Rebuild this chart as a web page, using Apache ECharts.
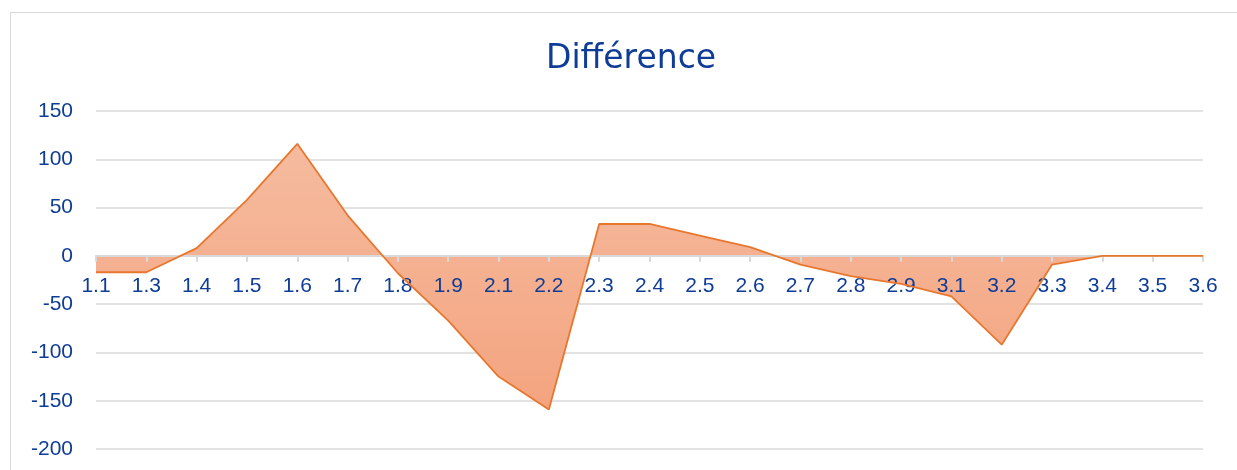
<!DOCTYPE html>
<html>
<head>
<meta charset="utf-8">
<script src="https://cdn.jsdelivr.net/npm/echarts@6/dist/echarts.min.js"></script>
<style>
html,body{margin:0;padding:0;background:#fff;overflow:hidden;}
#frame{position:absolute;left:10px;top:12px;width:1300px;height:600px;border:1.5px solid #d9d9d9;box-sizing:border-box;}
#chart{position:absolute;left:0;top:0;width:1237px;height:470px;}
</style>
</head>
<body>
<div id="frame"></div>
<div id="chart"></div>
<script>
const title = 'Différence';
const categories = ['1.1','1.3','1.4','1.5','1.6','1.7','1.8','1.9','2.1','2.2','2.3','2.4','2.5','2.6','2.7','2.8','2.9','3.1','3.2','3.3','3.4','3.5','3.6'];
const differenceValues = [-17,-17,8,58,116,42,-18,-67,-125,-159,33,33,21,9,-9,-21,-29,-42,-92,-9,0,0,0];
const yTicks = {min:-200, max:150, interval:50};

const textColor = '#0f3c96';
const axisFont = 'Liberation Sans, Arial, sans-serif';
const chart = echarts.init(document.getElementById('chart'), null, {renderer:'canvas'});
chart.setOption({
  animation:false,
  backgroundColor:'transparent',
  title:{
    text:title, left:541, top:38,
    textStyle:{color:textColor, fontSize:33, fontWeight:'normal', fontFamily:'DejaVu Sans, sans-serif'}
  },
  grid:{left:96, right:34, top:111, bottom:21, containLabel:false, outerBoundsMode:'none'},
  xAxis:{
    type:'category', data:categories, boundaryGap:false, z:5,
    axisLine:{onZero:true, lineStyle:{color:'#d9d9d9', width:2}},
    axisTick:{show:true, alignWithLabel:true, length:6, lineStyle:{color:'#d9d9d9', width:2}},
    axisLabel:{color:textColor, fontSize:21, margin:-173, interval:0, fontFamily:axisFont},
    splitLine:{show:false}
  },
  yAxis:{
    type:'value', min:yTicks.min, max:yTicks.max, interval:yTicks.interval,
    axisLine:{show:false}, axisTick:{show:false},
    axisLabel:{color:textColor, fontSize:21, margin:23, fontFamily:axisFont},
    splitLine:{lineStyle:{color:'#d9d9d9', width:1.5}}
  },
  series:[{
    name:'fill', type:'line', data:differenceValues, symbol:'none',
    lineStyle:{width:0, opacity:0},
    areaStyle:{
      origin:0,
      color:new echarts.graphic.LinearGradient(0,0,0,1,[
        {offset:0, color:'#f5bb9f'},
        {offset:1, color:'#f4a47f'}
      ]),
      opacity:1
    },
    z:1
  },{
    name:'Différence', type:'line', data:differenceValues, symbol:'none',
    lineStyle:{color:'#e8772e', width:1.8},
    z:10
  }]
});
</script>
</body>
</html>
